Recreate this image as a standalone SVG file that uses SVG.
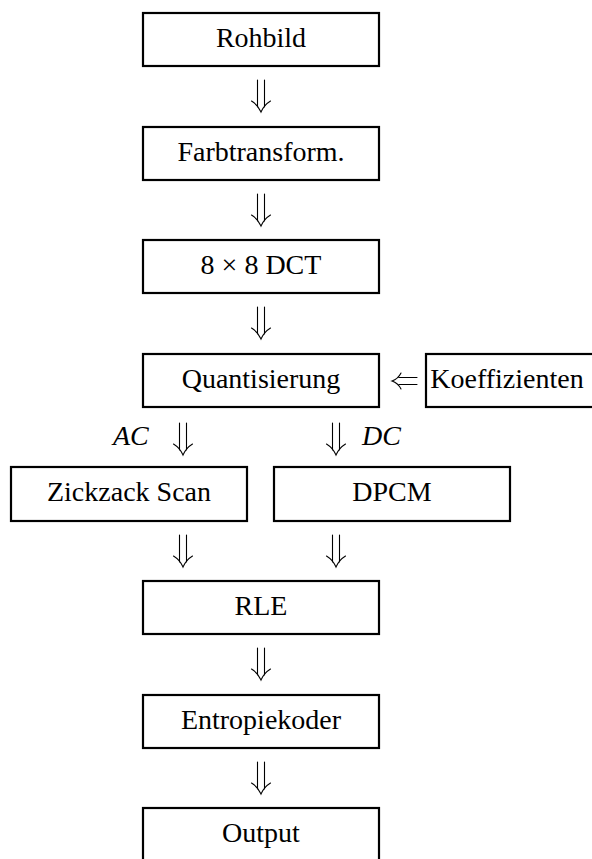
<svg xmlns="http://www.w3.org/2000/svg" width="592" height="859" viewBox="0 0 592 859">
<style>
.box{fill:#fff;stroke:#000;stroke-width:2.2}
.t{font-family:"Liberation Serif","Times New Roman",serif;font-size:28px;fill:#000;text-anchor:middle}
.i{font-style:italic;text-anchor:start}
.arr{fill:none;stroke:#000;stroke-width:1.1;stroke-linecap:round}
</style>
<defs>
<g id="down">
<path d="M-3.5,0 V27 M3.5,0 V27 M-9.5,21 Q-3,25 0,32 Q3,25 9.5,21"/>
</g>
<g id="left">
<path d="M6,-3.5 H24 M6,3.5 H24 M8,-8 Q5,-2 -1,0 Q5,2 8,8" transform="translate(0,0)"/>
</g>
</defs>
<g id="n-rohbild"><rect class="box" x="143" y="13" width="236" height="53"/><text class="t" x="261" y="47">Rohbild</text></g>
<g id="n-farb"><rect class="box" x="143" y="127" width="236" height="53"/><text class="t" x="261" y="161">Farbtransform.</text></g>
<g id="n-dct"><rect class="box" x="143" y="240" width="236" height="53"/><text class="t" x="261" y="274">8 × 8 DCT</text></g>
<g id="n-quant"><rect class="box" x="143" y="354" width="236" height="53"/><text class="t" x="261" y="388">Quantisierung</text></g>
<g id="n-koeff"><rect class="box" x="426" y="354" width="180" height="53"/><text class="t" x="507" y="388">Koeffizienten</text></g>
<g id="n-zick"><rect class="box" x="11" y="467" width="236" height="54"/><text class="t" x="129" y="501">Zickzack Scan</text></g>
<g id="n-dpcm"><rect class="box" x="274" y="467" width="236" height="54"/><text class="t" x="392" y="501">DPCM</text></g>
<g id="n-rle"><rect class="box" x="143" y="581" width="236" height="53"/><text class="t" x="261" y="615">RLE</text></g>
<g id="n-entropie"><rect class="box" x="143" y="695" width="236" height="53"/><text class="t" x="261" y="729">Entropiekoder</text></g>
<g id="n-output"><rect class="box" x="143" y="808" width="236" height="60"/><text class="t" x="261" y="842">Output</text></g>
<g id="connectors" class="arr">
<use href="#down" x="261" y="80"/>
<use href="#down" x="261" y="194"/>
<use href="#down" x="261" y="307"/>
<use href="#left" x="393" y="381"/>
<use href="#down" x="183" y="423"/>
<use href="#down" x="336" y="423"/>
<use href="#down" x="183" y="535"/>
<use href="#down" x="336" y="535"/>
<use href="#down" x="261" y="648"/>
<use href="#down" x="261" y="762"/>
</g>
<g id="labels">
<text class="t i" x="113" y="445">AC</text>
<text class="t i" x="362" y="445">DC</text>
</g>
</svg>
